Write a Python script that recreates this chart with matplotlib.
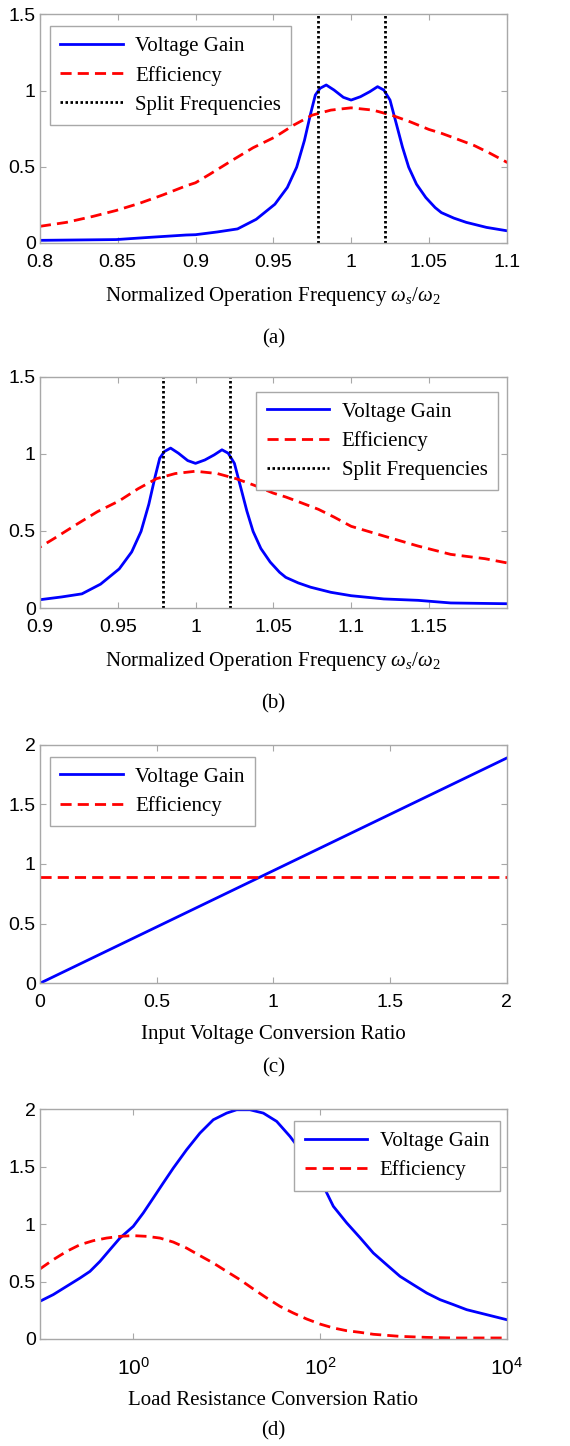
import numpy as np
import matplotlib
matplotlib.use("Agg")
import matplotlib.pyplot as plt
from matplotlib.ticker import FixedLocator, NullLocator, LogFormatterMathtext

plt.rcParams['font.family'] = ['Liberation Sans', 'DejaVu Sans']
plt.rcParams['mathtext.fontset'] = 'custom'
plt.rcParams['mathtext.rm'] = 'Liberation Serif'
plt.rcParams['mathtext.it'] = 'Liberation Serif:italic'

# ---- frequency sweep (panels a and b share the same curves) ----
freq = [0.800, 0.849, 0.871, 0.894, 0.900, 0.914, 0.927, 0.939, 0.951, 0.959,
        0.965, 0.970, 0.974, 0.977, 0.980, 0.984, 0.989, 0.995, 1.000, 1.006,
        1.012, 1.017, 1.021, 1.025, 1.029, 1.033, 1.037, 1.042, 1.048, 1.054,
        1.058, 1.066, 1.074, 1.087, 1.100, 1.121, 1.143, 1.164, 1.200]
gain_f = [0.017, 0.022, 0.037, 0.052, 0.054, 0.072, 0.092, 0.155, 0.254, 0.364,
          0.497, 0.673, 0.850, 0.971, 1.015, 1.037, 1.004, 0.956, 0.938, 0.960,
          0.993, 1.026, 1.004, 0.938, 0.784, 0.629, 0.497, 0.386, 0.298, 0.232,
          0.199, 0.163, 0.135, 0.102, 0.080, 0.059, 0.050, 0.033, 0.028]
freq_eff = [0.800, 0.817, 0.834, 0.849, 0.864, 0.879, 0.894, 0.900, 0.909, 0.924,
            0.937, 0.951, 0.963, 0.975, 0.987, 1.000, 1.014, 1.026, 1.038, 1.050,
            1.058, 1.066, 1.079, 1.089, 1.100, 1.121, 1.143, 1.164, 1.186, 1.200]
eff_f = [0.109, 0.135, 0.174, 0.213, 0.260, 0.315, 0.375, 0.395, 0.450, 0.545,
         0.625, 0.695, 0.773, 0.839, 0.872, 0.887, 0.872, 0.839, 0.795, 0.745,
         0.720, 0.690, 0.640, 0.590, 0.530, 0.467, 0.402, 0.348, 0.320, 0.293]
split_freq = [0.979, 1.022]

# ---- input voltage conversion ratio (panel c) ----
ratio_v = [0.0, 0.5, 1.0, 1.5, 2.0]
gain_v = [0.0, 0.472, 0.944, 1.416, 1.888]
eff_v = [0.888, 0.888, 0.888, 0.888, 0.888]

# ---- load resistance conversion ratio (panel d), log10 of ratio ----
logr_gain = [-1.0, -0.857, -0.714, -0.571, -0.464, -0.357, -0.25, -0.143, 0.0, 0.107,
             0.214, 0.321, 0.429, 0.571, 0.714, 0.857, 1.0, 1.107, 1.25, 1.393,
             1.536, 1.679, 1.821, 2.0, 2.143, 2.286, 2.429, 2.571, 2.714, 2.857,
             3.0, 3.143, 3.286, 3.429, 3.571, 3.714, 3.857, 4.0]
gain_r = [0.328, 0.386, 0.458, 0.530, 0.588, 0.675, 0.777, 0.878, 0.980, 1.096,
          1.226, 1.357, 1.487, 1.646, 1.791, 1.907, 1.965, 1.994, 1.994, 1.965,
          1.893, 1.762, 1.610, 1.390, 1.154, 1.010, 0.881, 0.748, 0.646, 0.545,
          0.472, 0.400, 0.342, 0.299, 0.255, 0.226, 0.197, 0.168]
logr_eff = [-1.0, -0.857, -0.714, -0.571, -0.429, -0.286, -0.143, 0.0, 0.143, 0.286,
            0.429, 0.571, 0.714, 0.857, 1.0, 1.143, 1.286, 1.429, 1.571, 1.714,
            1.857, 2.0, 2.143, 2.286, 2.429, 2.571, 2.714, 2.857, 3.143, 3.429, 4.0]
eff_r = [0.609, 0.690, 0.762, 0.820, 0.855, 0.878, 0.893, 0.899, 0.893, 0.878,
         0.843, 0.791, 0.725, 0.661, 0.588, 0.516, 0.435, 0.357, 0.284, 0.226,
         0.174, 0.130, 0.096, 0.072, 0.058, 0.041, 0.032, 0.023, 0.014, 0.009, 0.009]

serif = 'Liberation Serif'
frame = '#a8a8a8'
xlab_f = r'Normalized Operation Frequency $\omega_s/\omega_2$'
dash = (0, (4, 2.2))


def style(ax):
    for s in ax.spines.values():
        s.set_color(frame)
        s.set_linewidth(1.0)
    ax.tick_params(direction='in', length=4, color=frame, labelsize=14,
                   top=True, right=True)
    ax.tick_params(axis='x', pad=8)
    ax.tick_params(axis='y', pad=3)


def add_legend(ax, loc, anchor):
    leg = ax.legend(loc=loc, bbox_to_anchor=anchor, prop={'family': serif, 'size': 15},
                    fancybox=False, framealpha=1, edgecolor=frame, handlelength=3.0,
                    handletextpad=0.6, labelspacing=0.45, borderpad=0.5, borderaxespad=0)
    leg.get_frame().set_linewidth(1.0)


def panel_label(ax, y, txt):
    ax.text(0.5, y, txt, transform=ax.transAxes, ha='center', va='center',
            family=serif, fontsize=15)


fig = plt.figure(figsize=(5.70, 14.46), dpi=100)
L, W = 0.070, 0.819
ax_a = fig.add_axes([L, 0.832, W, 0.158])
ax_b = fig.add_axes([L, 0.5795, W, 0.160])
ax_c = fig.add_axes([L, 0.320, W, 0.165])
ax_d = fig.add_axes([L, 0.074, W, 0.159])

# (a) and (b): frequency sweeps
for ax, xlim, ticks, loc, anchor in [
        (ax_a, (0.8, 1.1), [0.8, 0.85, 0.9, 0.95, 1.0, 1.05, 1.1], 'upper left', (0.021, 0.948)),
        (ax_b, (0.9, 1.2), [0.9, 0.95, 1.0, 1.05, 1.1, 1.15], 'upper right', (0.981, 0.935))]:
    ax.plot(freq, gain_f, color='blue', lw=2.0, label='Voltage Gain')
    ax.plot(freq_eff, eff_f, color='red', lw=2.0, ls=dash, label='Efficiency')
    for i, f in enumerate(split_freq):
        ax.axvline(f, color='black', lw=2.0, ls=(0, (0.9, 0.9)),
                   label='Split Frequencies' if i == 0 else None)
    ax.set_xlim(*xlim)
    ax.set_ylim(0, 1.5)
    ax.xaxis.set_major_locator(FixedLocator(ticks))
    ax.set_xticklabels(['%g' % t for t in ticks])
    ax.set_yticks([0, 0.5, 1, 1.5])
    ax.set_yticklabels(['0', '0.5', '1', '1.5'])
    ax.set_xlabel(xlab_f, family=serif, fontsize=15, labelpad=10)
    style(ax)
    add_legend(ax, loc, anchor)

panel_label(ax_a, -0.42, '(a)')
panel_label(ax_b, -0.415, '(b)')

# (c): input voltage conversion ratio
ax_c.plot(ratio_v, gain_v, color='blue', lw=2.0, label='Voltage Gain')
ax_c.plot(ratio_v, eff_v, color='red', lw=2.0, ls=dash, label='Efficiency')
ax_c.set_xlim(0, 2)
ax_c.set_ylim(0, 2)
ax_c.set_xticks([0, 0.5, 1, 1.5, 2])
ax_c.set_xticklabels(['0', '0.5', '1', '1.5', '2'])
ax_c.set_yticks([0, 0.5, 1, 1.5, 2])
ax_c.set_yticklabels(['0', '0.5', '1', '1.5', '2'])
ax_c.set_xlabel('Input Voltage Conversion Ratio', family=serif, fontsize=15, labelpad=10)
style(ax_c)
add_legend(ax_c, 'upper left', (0.021, 0.95))
panel_label(ax_c, -0.355, '(c)')

# (d): load resistance conversion ratio, log axis
ax_d.plot(10 ** np.array(logr_gain), gain_r, color='blue', lw=2.0, label='Voltage Gain')
ax_d.plot(10 ** np.array(logr_eff), eff_r, color='red', lw=2.0, ls=dash, label='Efficiency')
ax_d.set_xscale('log')
ax_d.set_xlim(0.1, 1e4)
ax_d.set_ylim(0, 2)
ax_d.xaxis.set_major_locator(FixedLocator([1, 100, 10000]))
ax_d.xaxis.set_major_formatter(LogFormatterMathtext())
ax_d.xaxis.set_minor_locator(NullLocator())
ax_d.set_yticks([0, 0.5, 1, 1.5, 2])
ax_d.set_yticklabels(['0', '0.5', '1', '1.5', '2'])
ax_d.set_xlabel('Load Resistance Conversion Ratio', family=serif, fontsize=15, labelpad=9)
style(ax_d)
ax_d.tick_params(axis='x', labelsize=15, pad=13)
add_legend(ax_d, 'upper right', (0.985, 0.948))
panel_label(ax_d, -0.40, '(d)')

fig.savefig('out.png', dpi=100)
